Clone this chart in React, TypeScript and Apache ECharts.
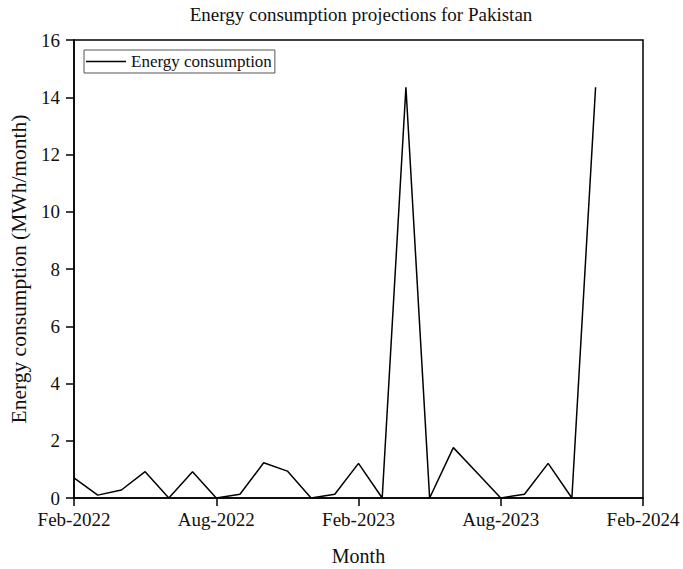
import React, { useEffect, useRef } from "react";
import * as echarts from "echarts";

const months: string[] = [
  "Feb-2022", "Mar-2022", "Apr-2022", "May-2022", "Jun-2022", "Jul-2022",
  "Aug-2022", "Sep-2022", "Oct-2022", "Nov-2022", "Dec-2022", "Jan-2023",
  "Feb-2023", "Mar-2023", "Apr-2023", "May-2023", "Jun-2023", "Jul-2023",
  "Aug-2023", "Sep-2023", "Oct-2023", "Nov-2023", "Dec-2023", "Jan-2024",
  "Feb-2024",
];
const consumption: number[] = [
  0.7, 0.1, 0.28, 0.92, 0.0, 0.92, 0.0, 0.13, 1.23, 0.94, 0.0, 0.13,
  1.21, 0.0, 14.35, 0.0, 1.76, 0.88, 0.0, 0.13, 1.21, 0.0, 14.35,
];

const FONT = "'Liberation Serif', 'Times New Roman', serif";

export default function App() {
  const ref = useRef<HTMLDivElement>(null);
  useEffect(() => {
    if (!ref.current) return;
    const chart = echarts.init(ref.current, undefined, { renderer: "svg" });
    chart.setOption({
      animation: false,
      backgroundColor: "#fff",
      textStyle: { fontFamily: FONT },
      title: {
        text: "Energy consumption projections for Pakistan",
        left: 356,
        textAlign: "center",
        top: 0,
        textStyle: { fontFamily: FONT, fontSize: 19, fontWeight: "normal", color: "#111" },
      },
      legend: {
        left: 84,
        top: 50,
        data: [{ name: "Energy consumption", icon: "rect" }],
        borderColor: "#555",
        borderWidth: 1,
        borderRadius: 0,
        padding: [3, 3, 3, 2],
        itemWidth: 40,
        itemHeight: 1.5,
        itemGap: 4,
        itemStyle: { color: "#000" },
        textStyle: { fontFamily: FONT, fontSize: 17, color: "#111" },
        selectedMode: false,
      },
      grid: {
        left: 74,
        right: 40,
        top: 40,
        bottom: 71,
        show: true,
        borderColor: "#000",
        borderWidth: 1.5,
        backgroundColor: "transparent",
        outerBoundsMode: "none",
        containLabel: false,
      },
      xAxis: {
        type: "value",
        min: 0,
        max: 24,
        interval: 6,
        name: "Month",
        nameLocation: "middle",
        nameGap: 48,
        nameTextStyle: { fontFamily: FONT, fontSize: 20, color: "#111" },
        axisLine: { show: true, lineStyle: { color: "#000", width: 1.5 } },
        axisTick: { show: true, inside: false, length: 8, lineStyle: { color: "#000", width: 1.5 } },
        splitLine: { show: false },
        axisLabel: {
          fontFamily: FONT,
          fontSize: 19,
          color: "#111",
          margin: 12,
          formatter: (v: number) => months[v] ?? "",
        },
      },
      yAxis: {
        type: "value",
        min: 0,
        max: 16,
        interval: 2,
        name: "Energy consumption (MWh/month)",
        nameLocation: "middle",
        nameGap: 40,
        nameTextStyle: { fontFamily: FONT, fontSize: 21.5, color: "#111" },
        axisLine: { show: true, lineStyle: { color: "#000", width: 1.5 } },
        axisTick: { show: true, inside: false, length: 8, lineStyle: { color: "#000", width: 1.5 } },
        splitLine: { show: false },
        axisLabel: { fontFamily: FONT, fontSize: 19, color: "#111", margin: 14 },
      },
      series: [
        {
          name: "Energy consumption",
          type: "line",
          data: consumption.map((v, i) => [i, v]),
          showSymbol: false,
          symbol: "none",
          lineStyle: { color: "#000", width: 1.5 },
          itemStyle: { color: "#000" },
        },
      ],
    });
    return () => chart.dispose();
  }, []);
  return (
    <div
      ref={ref}
      style={{ width: 683, height: 569, position: "absolute", left: 0, top: 0, fontFamily: "Liberation Serif" }}
    />
  );
}
